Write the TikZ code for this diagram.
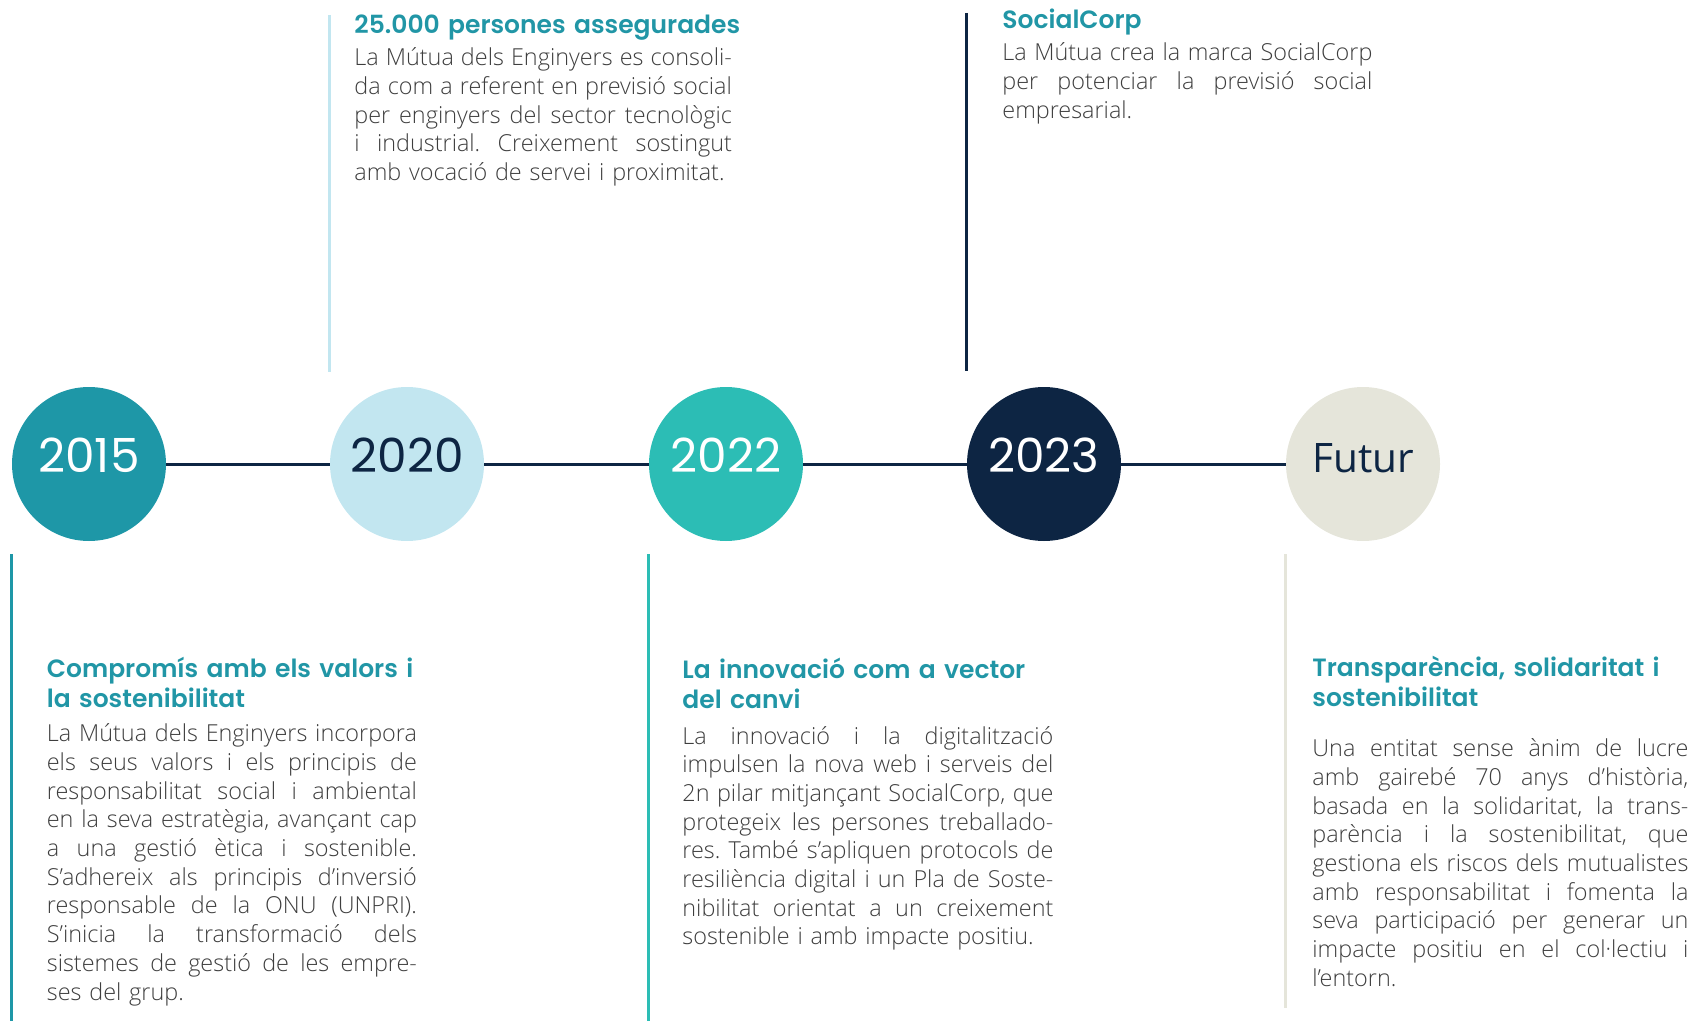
\documentclass[tikz,border=0pt]{standalone}
\usepackage{fontspec}
\IfFontExistsTF{Open Sans Light}
  {\newfontfamily\bodyfont{Open Sans Light}}
  {\newfontfamily\bodyfont{Open Sans}}
\IfFontExistsTF{Poppins SemiBold}
  {\newfontfamily\headfont{Poppins SemiBold}}
  {\newfontfamily\headfont{Poppins}}
\newfontfamily\yearfont{Poppins}
\newfontfamily\futurfont{Open Sans}

\definecolor{tealdark}{HTML}{1E97A7}
\definecolor{tealhead}{HTML}{2196A6}
\definecolor{skyblue}{HTML}{C2E6F0}
\definecolor{tealmint}{HTML}{2CBDB5}
\definecolor{navy}{HTML}{0D2543}
\definecolor{sand}{HTML}{E5E5DA}
\definecolor{bodygrey}{HTML}{3E3E3E}

% one justified line of a text block
\newlength\blockw
\newcommand\jline[1]{\makebox[\blockw][s]{\spaceskip=0.26em plus 1fil\relax #1}\\}

\begin{document}
\frenchspacing
\begin{tikzpicture}[x=0.5pt,y=-0.5pt,
    year/.style={circle, minimum size=77pt, inner sep=0pt,
      text height=12pt, text depth=4pt,
      font=\yearfont\fontsize{23.5}{28}\selectfont},
    head/.style={anchor=base west, inner sep=0pt, text width=230pt,
      align=left, text=tealhead,
      font=\headfont\fontsize{12.5}{15.25}\selectfont},
    body/.style={anchor=base west, inner sep=0pt, text width=#1,
      align=left, text=bodygrey,
      execute at begin node={\setlength\blockw{#1}},
      font=\bodyfont\fontsize{11.7}{14.35}\selectfont},
    timeline/.style={draw=navy, line width=1.5pt},
    rule/.style={line width=1.5pt}]
  \useasboundingbox (0,0) rectangle (1695,1021);

  % the five years
  \node[year, fill=tealdark, text=white] (c2015) at (89,464)   {2015};
  \node[year, fill=skyblue, text=navy]   (c2020) at (407,464)  {2020};
  \node[year, fill=tealmint, text=white] (c2022) at (726,464)  {2022};
  \node[year, fill=navy, text=white]     (c2023) at (1044,464) {2023};
  \node[year, fill=sand, text=navy,
        font=\futurfont\fontsize{20.3}{24}\selectfont] (cfutur) at (1363,464) {Futur};

  \draw[timeline] (c2015) -- (c2020);
  \draw[timeline] (c2020) -- (c2022);
  \draw[timeline] (c2022) -- (c2023);
  \draw[timeline] (c2023) -- (cfutur);

  % rules beside the texts
  \draw[rule, skyblue]  (c2020.west |- 0,15)  -- (c2020.west |- 0,372);
  \draw[rule, navy]     (c2023.west |- 0,13)  -- (c2023.west |- 0,371);
  \draw[rule, tealdark] (c2015.west |- 0,554) -- (c2015.west |- 0,1021);
  \draw[rule, tealmint] (c2022.west |- 0,554) -- (c2022.west |- 0,1021);
  \draw[rule, sand]     (cfutur.west |- 0,554) -- (cfutur.west |- 0,1008);

  % 2020
  \node[head] (h2020) at (354,33.3) {25.000 persones assegurades};
  \node[body=188.75pt] (t2020) at (354,65.7) {%
    \jline{La Mútua dels Enginyers es consoli-}
    \jline{da com a referent en previsió social}
    \jline{per enginyers del sector tecnològic}
    \jline{i industrial. Creixement sostingut}
    \mbox{amb vocació de servei i proximitat.}};

  % 2023
  \node[head] (h2023) at (1002,28.3) {SocialCorp};
  \node[body=185pt] (t2023) at (1002,61) {%
    \jline{La Mútua crea la marca SocialCorp}
    \jline{per potenciar la previsió social}
    \mbox{empresarial.}};

  % 2015
  \node[head] (h2015) at (46.5,677) {Compromís amb els valors i\\la sostenibilitat};
  \node[body=185pt] (t2015) at (46.5,741.7) {%
    \jline{La Mútua dels Enginyers incorpora}
    \jline{els seus valors i els principis de}
    \jline{responsabilitat social i ambiental}
    \jline{en la seva estratègia, avançant cap}
    \jline{a una gestió ètica i sostenible.}
    \jline{S’adhereix als principis d’inversió}
    \jline{responsable de la ONU (UNPRI).}
    \jline{S’inicia la transformació dels}
    \jline{sistemes de gestió de les empre-}
    \mbox{ses del grup.}};

  % 2022
  \node[head] (h2022) at (682,678.3) {La innovació com a vector\\del canvi};
  \node[body=185.5pt] (t2022) at (682,744) {%
    \jline{La innovació i la digitalització}
    \jline{impulsen la nova web i serveis del}
    \jline{2n pilar mitjançant SocialCorp, que}
    \jline{protegeix les persones treballado-}
    \jline{res. També s’apliquen protocols de}
    \jline{resiliència digital i un Pla de Soste-}
    \jline{nibilitat orientat a un creixement}
    \mbox{sostenible i amb impacte positiu.}};

  % futur
  \node[head] (hfutur) at (1312,676) {Transparència, solidaritat i\\sostenibilitat};
  \node[body=188pt] (tfutur) at (1312,756.7) {%
    \jline{Una entitat sense ànim de lucre}
    \jline{amb gairebé 70 anys d’història,}
    \jline{basada en la solidaritat, la trans-}
    \jline{parència i la sostenibilitat, que}
    \jline{gestiona els riscos dels mutualistes}
    \jline{amb responsabilitat i fomenta la}
    \jline{seva participació per generar un}
    \jline{impacte positiu en el col·lectiu i}
    \mbox{l’entorn.}};
\end{tikzpicture}
\end{document}
